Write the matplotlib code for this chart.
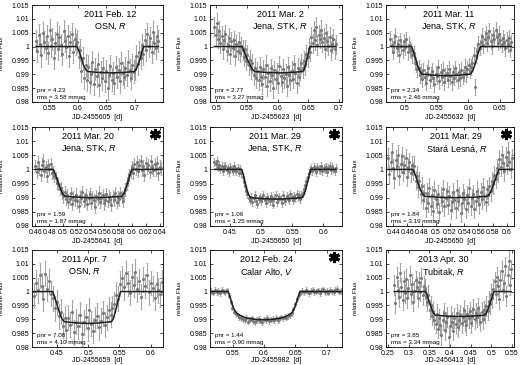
import matplotlib
matplotlib.use('Agg')
import matplotlib.pyplot as plt
import numpy as np
from matplotlib.ticker import FuncFormatter

plt.rcParams['font.family'] = ['Liberation Sans', 'DejaVu Sans']
plt.rcParams['mathtext.fontset'] = 'custom'
plt.rcParams['mathtext.it'] = 'Liberation Sans:italic'
plt.rcParams['mathtext.rm'] = 'Liberation Sans'

# ---- panel labels ----
dates = ["2011 Feb. 12", "2011 Mar. 2", "2011 Mar. 11",
         "2011 Mar. 20", "2011 Mar. 29", "2011 Mar. 29",
         "2011 Apr. 7", "2012 Feb. 24", "2013 Apr. 30"]
sites = ["OSN, $R$", "Jena, STK, $R$", "Jena, STK, $R$",
         "Jena, STK, $R$", "Jena, STK, $R$", "Stará Lesná, $R$",
         "OSN, $R$", "Calar Alto, $V$", "Tubitak, $R$"]
jd_offsets = [2455605, 2455623, 2455632, 2455641, 2455650, 2455650,
              2455659, 2455982, 2456413]
pnr = [4.23, 2.77, 2.34, 1.59, 1.06, 1.84, 7.08, 1.44, 3.85]
rms = [3.58, 3.27, 2.46, 1.87, 1.25, 3.19, 4.10, 0.90, 3.34]
starred = [False, False, False, True, True, True, False, True, False]

# ---- observed light curves: first/last time stamp and flux deviation in ppt ----
obs_start = [0.527, 0.497, 0.477, 0.460, 0.425, 0.433, 0.413, 0.516, 0.265]
obs_end = [0.742, 0.695, 0.668, 0.642, 0.620, 0.607, 0.625, 0.722, 0.548]
flux_err = [4.0, 3.5, 2.8, 2.2, 1.4, 3.3, 4.5, 1.0, 3.5]

flux1 = [2.1, -1.5, 4.3, 0.8, -3.2, 5.0, 1.7, -0.6, 3.9, -2.4, 6.1, 0.3, 2.8, -4.1, 1.2,
         4.7, -1.0, 3.3, 0.5, -2.7, 5.6, 2.0, -0.2, 3.8, -3.5, 1.5, 4.4, -1.8, 2.6, 0.9,
         1.8, -3.9, -1.2, -8.7, -4.3, -11.2, -6.8, -12.0,
         -7.2, -12.8, -9.9, -5.6, -13.4, -8.1, -10.7, -6.3, -14.0, -9.2, -11.5, -7.7,
         -12.3, -8.8, -15.1, -10.2, -6.9, -11.9, -9.4, -13.0, -7.5, -10.8, -8.3, -12.6,
         -6.1, -9.7, -11.0, -7.9, -10.3, -5.4, -8.6, -11.4, -6.7, -9.0,
         -8.0, -3.5, -6.4, -1.9, -4.2, 0.7, -2.8,
         2.4, -1.1, 4.6, 0.2, 3.1, -2.0, 5.2, 1.4, -0.5, 3.7, 1.9]
flux2 = [7.2, 4.1, 8.5, 2.9, 5.6, 1.3, 3.8, -0.9, 2.5, 4.4, -1.7, 0.6, 3.1, -2.8, 1.9,
         -0.4, 2.2, -3.3, 0.8, -1.5, 1.6, -2.2, 0.1,
         -1.2, -3.6, -1.0, -5.1, -3.0, -6.8, -4.7, -8.2, -6.0, -10.4, -7.7, -11.3, -8.9,
         -12.1, -7.4, -10.8, -13.6, -8.2, -11.0, -6.5, -14.2, -9.7, -12.4, -7.9, -10.1,
         -15.0, -8.6, -11.7, -9.3, -13.1, -6.9, -10.6, -12.9, -8.0, -11.4, -9.9, -14.4,
         -7.2, -10.3, -12.0, -8.8, -11.6, -6.4, -9.5, -13.3, -7.6, -10.9, -8.4, -6.1,
         -7.9, -5.2, -6.6, -2.8, -3.9, -0.5, -1.8,
         3.5, 1.2, 5.8, 2.4, 7.1, 0.6, 4.3, 2.9, 6.0, 1.5, 3.2, -0.7, 4.8, 2.0, 0.3,
         3.6, -1.4, 1.1, 2.7, -0.9, 0.8]
flux3 = [2.9, 0.4, -1.8, 1.6, 3.8, -0.6, 1.0, -2.9, 2.2, 0.1, -1.3, 1.9, -0.3, 2.6, -2.0,
         0.7, -0.9,
         -1.5, -3.2, -2.5, -5.8, -6.4, -8.1, -7.6, -10.3, -9.2,
         -11.8, -8.6, -10.9, -13.0, -9.4, -7.8, -12.2, -10.1, -8.9, -11.5, -13.6, -9.8,
         -10.7, -7.5, -12.4, -9.1, -11.0, -8.3, -12.9, -10.4, -9.6, -11.9, -8.0, -10.6,
         -12.7, -9.3, -11.2, -7.9, -10.0, -12.1, -9.0, -11.4, -8.5, -10.8, -9.7, -7.2,
         -9.9, -8.1, -6.8, -8.7,
         -7.4, -6.1, -3.0, -14.5, -3.3, -1.6, 0.9, -0.4,
         1.8, 3.9, 0.6, 2.7, 4.8, 1.2, 3.3, 5.6, 2.1, 0.3, 4.2, 2.9, 6.1, 3.5, 1.4,
         4.6, 2.2, 0.8, 3.0, 1.7, -0.5, 2.4, 0.9, 3.1, -1.1, 1.5]
flux4 = [1.2, -0.8, 2.5, 0.3, -1.9, 1.7, 3.1, -0.4, 0.9, -2.2, 1.5, 0.1, 2.0, -1.1,
         -0.9, -2.4, -3.1, -4.8, -5.2, -7.0, -6.6, -8.3, -9.5, -8.1, -10.4,
         -9.2, -11.6, -10.5, -8.4, -12.3, -9.8, -10.9, -8.9, -11.3, -12.8, -9.5, -10.2,
         -7.9, -11.0, -10.6, -9.1, -12.1, -10.0, -8.6, -11.8, -9.7, -10.8, -13.2, -9.3,
         -10.4, -8.2, -11.5, -10.1, -9.0, -12.0, -10.7, -8.8, -11.1, -9.6, -10.3, -12.5,
         -9.4, -10.9, -8.5, -11.4, -9.9, -10.6, -8.3, -9.7, -11.2,
         -8.4, -7.1, -4.9, -3.6, -2.0, -0.7,
         0.8, -1.2, 1.9, 0.2, 2.6, -0.6, 1.4, 3.0, -0.1, 1.1, -1.8, 2.2, 0.5, 1.6, -0.9,
         2.9, 0.7, -0.3, 1.8, 0.0, 2.4, -1.4, 1.0, 0.4]
flux5 = [2.6, 1.8, 3.1, 0.9, 1.5, 0.2, 1.1, -0.6, 0.7, 1.3, -0.2, 0.5, -1.0, 0.8, 0.1,
         -0.7, 1.2, 0.3, -0.4, 0.6, -1.1, 0.2,
         -1.2, -2.8, -4.5, -5.9, -7.6, -8.8, -10.0,
         -10.9, -9.8, -11.6, -10.2, -9.1, -11.0, -12.1, -10.5, -9.6, -11.3, -10.0, -8.9,
         -10.8, -11.9, -9.9, -10.4, -11.1, -9.4, -10.7, -12.4, -10.1, -9.2, -11.5, -10.6,
         -9.7, -10.3, -11.8, -9.0, -10.5, -11.2, -9.5, -10.0, -10.9, -8.8, -9.9, -10.7,
         -9.3, -10.2, -8.6, -9.8, -9.1, -10.3, -8.9,
         -8.5, -7.0, -5.4, -4.1, -2.6, -1.2, -0.3,
         0.6, -0.5, 1.0, 0.2, -0.8, 0.9, 0.3, -0.2, 1.2, -0.6, 0.5, 0.0, 0.8, -0.9, 0.4,
         1.1, -0.3, 0.7, 0.1, -0.4, 0.6]
flux6 = [4.2, -1.6, 2.8, 6.0, 0.4, -3.1, 3.5, 1.1, 5.2, -2.2, 2.0, 4.7, -0.8, 1.7, 3.9,
         -2.6, 0.9, 2.5, -1.3, 1.4,
         -0.6, 1.3, -4.0, -2.2, -6.3, -4.1, -8.6, -6.0, -10.7, -8.3,
         -13.5, -8.2, -11.9, -6.4, -12.8, -9.1, -14.6, -7.3, -10.5, -12.2, -8.7, -15.0,
         -9.6, -11.3, -6.9, -13.1, -10.0, -7.8, -12.5, -9.3, -14.2, -11.6, -8.0, -10.8,
         -13.7, -7.1, -11.0, -9.5, -15.4, -12.0, -8.4, -10.3, -13.9, -9.0, -11.7, -6.6,
         -12.9, -10.1, -8.8, -14.0, -11.2, -7.5, -9.8, -12.3, -8.1, -10.6, -6.2, -9.4,
         -11.5, -7.0,
         -9.1, -6.0, -7.8, -4.2, -5.3, -2.0, -3.4, 0.5, -1.1,
         3.6, 0.9, 5.1, 2.2, -0.7, 4.5, 1.6, 6.3, 2.8, 0.2, 3.9]
flux7 = [-1.5, 3.2, 0.4, 5.8, 2.1, -2.6, 6.4, 1.0, 3.7, -0.8,
         -2.4, -6.1, -3.8, -8.9, -7.2, -12.3, -9.6,
         -13.8, -9.5, -11.9, -7.4, -14.6, -10.8, -12.5, -8.3, -15.2, -11.1, -9.0, -13.3,
         -6.8, -11.6, -14.1, -10.2, -8.7, -12.8, -10.5, -7.9, -12.0, -9.3, -6.5, -8.4,
         -6.0, -4.5, -1.2, -2.6, 2.8,
         4.9, 1.6, 6.7, 3.0, -0.5, 5.3, 2.4, 7.2, 0.8, 3.8, -1.8, 4.4, 2.0, 5.9, -0.2,
         3.1, 1.2, -2.3, 2.7, 0.5, -1.0, 3.4, 1.9, -0.6]
flux8 = [0.3, -0.4, 0.6, -0.1, 0.2, -0.6, 0.5, 0.0, -0.3, 0.4,
         -1.5, -3.9, -5.8, -7.2, -8.1, -8.6, -9.3, -9.6,
         -9.9, -10.4, -9.5, -10.8, -10.1, -9.7, -10.6, -11.0, -10.2, -9.8, -10.5, -10.9,
         -10.0, -10.3, -9.6, -10.7, -10.1, -9.9, -10.4, -9.5, -10.2, -9.8, -9.3, -9.7,
         -9.0, -9.4, -8.8, -8.6,
         -7.8, -6.4, -4.6, -2.8, -1.3, -0.4,
         0.2, -0.3, 0.5, 0.1, -0.5, 0.3, 0.7, -0.2, 0.0, 0.4, -0.6, 0.2, 0.8, -0.1, 0.3,
         -0.4, 0.6, 0.1, -0.2, 0.5, 0.9, 0.0, 0.3]
flux9 = [2.4, -4.1, 5.3, 0.7, -1.9, 6.8, 1.5, -3.0, 3.9, -0.6, 4.6, -2.5, 1.2, 5.9, -1.0,
         2.8, -3.6, 0.3, 4.1, 1.8, -2.2, 3.4, 0.0, 5.0, -1.4, 2.1, 0.9,
         -1.8, -3.6, -1.2, -6.5, -5.0, -8.7, -7.4, -10.1,
         -11.6, -8.1, -13.4, -9.7, -12.2, -15.8, -10.3, -7.6, -13.9, -11.0, -9.2, -16.5,
         -12.6, -8.8, -10.9, -14.1, -9.5, -11.8, -7.9, -12.9, -10.2, -8.4, -11.3, -9.0,
         -6.7, -10.6, -12.1, -8.2, -9.6, -7.1, -11.5, -8.9, -6.3, -10.0, -7.8, -9.3,
         -5.9, -8.6, -10.8, -7.4, -9.9, -6.8,
         -8.0, -5.2, -6.9, -3.3, -4.5, -0.9, -2.4, 1.0,
         3.7, -0.8, 5.4, 1.9, -2.7, 4.2, 7.5, 0.6, 3.0, 9.1, -1.6, 5.8, 11.2, 2.3, 8.0]
fluxes = [flux1, flux2, flux3, flux4, flux5, flux6, flux7, flux8, flux9]

# ---- fitted transit model (time, flux deviation in ppt) ----
model_t = [
    [0.527, 0.599, 0.603, 0.607, 0.610, 0.614, 0.618, 0.638, 0.659, 0.680, 0.700, 0.703, 0.706, 0.710, 0.713, 0.716, 0.742],
    [0.497, 0.542, 0.546, 0.550, 0.555, 0.559, 0.563, 0.583, 0.602, 0.622, 0.641, 0.6434, 0.6458, 0.6482, 0.6506, 0.653, 0.695],
    [0.477, 0.5105, 0.5138, 0.5171, 0.5204, 0.5237, 0.527, 0.546, 0.565, 0.584, 0.603, 0.6062, 0.6094, 0.6126, 0.6158, 0.619, 0.668],
    [0.460, 0.486, 0.4894, 0.4928, 0.4962, 0.4996, 0.503, 0.5235, 0.544, 0.5645, 0.585, 0.588, 0.591, 0.594, 0.597, 0.600, 0.642],
    [0.425, 0.469, 0.4718, 0.4746, 0.4774, 0.4802, 0.483, 0.5038, 0.5245, 0.5453, 0.566, 0.5688, 0.5716, 0.5744, 0.5772, 0.580, 0.620],
    [0.433, 0.468, 0.4713, 0.4746, 0.4779, 0.4812, 0.4845, 0.5065, 0.5285, 0.5505, 0.5725, 0.5758, 0.5791, 0.5824, 0.5857, 0.589, 0.607],
    [0.413, 0.443, 0.4468, 0.4506, 0.4544, 0.4582, 0.462, 0.4808, 0.4995, 0.5183, 0.537, 0.540, 0.543, 0.546, 0.549, 0.552, 0.625],
    [0.516, 0.543, 0.546, 0.549, 0.552, 0.555, 0.560, 0.570, 0.585, 0.600, 0.615, 0.630, 0.640, 0.645, 0.648, 0.651, 0.654, 0.657, 0.722],
    [0.265, 0.341, 0.3458, 0.3506, 0.3554, 0.3602, 0.365, 0.3945, 0.424, 0.4535, 0.483, 0.4878, 0.4926, 0.4974, 0.5022, 0.507, 0.548],
]
model_f = [
    [0, 0, -1.9, -4.3, -6.5, -8.2, -9.0, -9.35, -9.5, -9.35, -9.0, -8.2, -6.5, -4.3, -1.9, 0, 0],
    [0, 0, -1.9, -4.3, -6.5, -8.2, -9.0, -9.35, -9.5, -9.35, -9.0, -8.2, -6.5, -4.3, -1.9, 0, 0],
    [0, 0, -2.1, -4.75, -7.2, -9.05, -9.95, -10.35, -10.5, -10.35, -9.95, -9.05, -7.2, -4.75, -2.1, 0, 0],
    [0, 0, -2.0, -4.5, -6.8, -8.6, -9.5, -9.85, -10.0, -9.85, -9.5, -8.6, -6.8, -4.5, -2.0, 0, 0],
    [0, 0, -2.1, -4.75, -7.2, -9.05, -9.95, -10.35, -10.5, -10.35, -9.95, -9.05, -7.2, -4.75, -2.1, 0, 0],
    [0, 0, -2.0, -4.5, -6.8, -8.6, -9.5, -9.85, -10.0, -9.85, -9.5, -8.6, -6.8, -4.5, -2.0, 0, 0],
    [0, 0, -2.3, -5.2, -7.8, -9.9, -10.9, -11.3, -11.5, -11.3, -10.9, -9.9, -7.8, -5.2, -2.3, 0, 0],
    [0, 0, -2.0, -4.3, -6.2, -7.4, -8.4, -9.4, -10.0, -10.2, -10.0, -9.4, -8.4, -7.4, -6.2, -4.3, -2.0, 0, 0],
    [0, 0, -1.8, -4.05, -6.1, -7.75, -8.55, -8.85, -9.0, -8.85, -8.55, -7.75, -6.1, -4.05, -1.8, 0, 0],
]

# ---- axis ranges and ticks ----
xlims = [(0.52, 0.75), (0.49, 0.705), (0.47, 0.672), (0.455, 0.645), (0.418, 0.63),
         (0.43, 0.61), (0.41, 0.62), (0.514, 0.724), (0.245, 0.555)]
xticks = [[0.55, 0.6, 0.65, 0.7], [0.5, 0.55, 0.6, 0.65, 0.7], [0.5, 0.55, 0.6, 0.65],
          [0.46, 0.48, 0.5, 0.52, 0.54, 0.56, 0.58, 0.6, 0.62, 0.64],
          [0.45, 0.5, 0.55, 0.6],
          [0.44, 0.46, 0.48, 0.5, 0.52, 0.54, 0.56, 0.58, 0.6],
          [0.45, 0.5, 0.55, 0.6], [0.55, 0.6, 0.65, 0.7],
          [0.25, 0.3, 0.35, 0.4, 0.45, 0.5, 0.55]]
yticks = [0.98, 0.985, 0.99, 0.995, 1.0, 1.005, 1.01, 1.015]

# layout in pixels
W, H = 520, 365
col_px = [(32, 163), (210, 342), (386, 514)]
row_px = [(5, 102), (127, 226), (250, 347)]
xlabel_gap = [12, 12, 9.5]
title_x = [0.6, 0.53, 0.49, 0.43, 0.49, 0.55, 0.40, 0.43, 0.45]

fig = plt.figure(figsize=(W / 100, H / 100), dpi=100)

for i in range(9):
    r, c = divmod(i, 3)
    x0, x1 = col_px[c]
    y0, y1 = row_px[r]
    ax = fig.add_axes([x0 / W, 1 - y1 / H, (x1 - x0) / W, (y1 - y0) / H])

    f = 1 + np.array(fluxes[i]) * 1e-3
    t = np.linspace(obs_start[i], obs_end[i], len(f))
    ax.errorbar(t, f, yerr=flux_err[i] * 1e-3, fmt='o', ms=1.2, color='#787878',
                ecolor='#a4a4a4', elinewidth=0.8, capsize=0.8, capthick=0.5, zorder=2)
    ax.plot(model_t[i], 1 + np.array(model_f[i]) * 1e-3, color='#202020', lw=1.1, zorder=3)

    ax.set_xlim(*xlims[i])
    ax.set_ylim(0.98, 1.015)
    ax.set_xticks(xticks[i])
    ax.set_yticks(yticks)
    fmt = FuncFormatter(lambda v, p: '%g' % round(v, 4))
    ax.xaxis.set_major_formatter(fmt)
    ax.yaxis.set_major_formatter(fmt)
    ax.tick_params(direction='in', length=2.5, width=0.5, labelsize=5, pad=2,
                   top=True, right=True)
    for s in ax.spines.values():
        s.set_linewidth(0.6)

    ax.set_xlabel(f"JD-{jd_offsets[i]}  [d]", fontsize=5)
    ax.xaxis.set_label_coords(0.5, -xlabel_gap[r] / (y1 - y0))
    ax.set_ylabel("relative Flux", fontsize=4.5)
    ax.yaxis.set_label_coords(-28 / (x1 - x0), 0.5)

    ax.text(title_x[i], 0.95, dates[i], transform=ax.transAxes, ha='center', va='top',
            fontsize=6.5)
    ax.text(title_x[i], 0.83, sites[i], transform=ax.transAxes, ha='center', va='top',
            fontsize=6.5)
    ax.text(0.04, 0.12, f"pnr = {pnr[i]:.2f}", transform=ax.transAxes, fontsize=4.5,
            va='center')
    ax.text(0.04, 0.05, f"rms = {rms[i]:.2f} mmag", transform=ax.transAxes, fontsize=4.5,
            va='center')
    if starred[i]:
        ax.plot([0.94], [0.93], transform=ax.transAxes, marker=(6, 2, 0), ms=8,
                mew=2.2, color='black', clip_on=False)

fig.savefig("out.png", dpi=100)
